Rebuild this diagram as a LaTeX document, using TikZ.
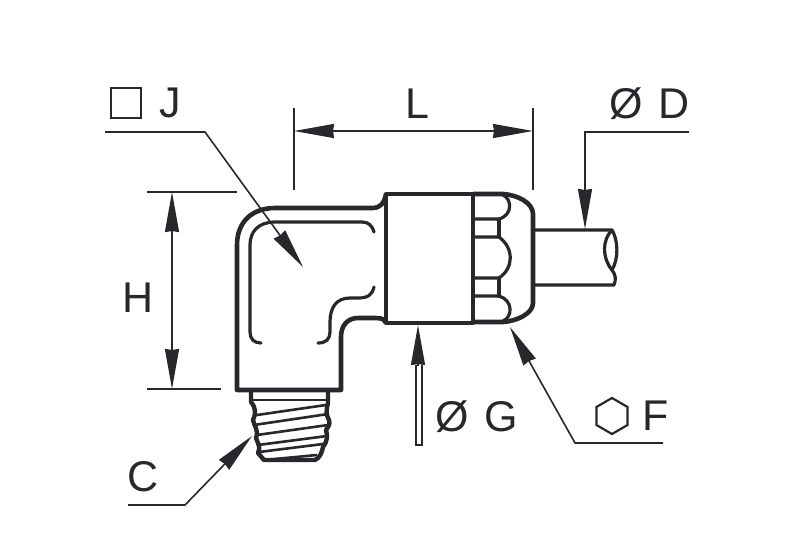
\documentclass[tikz,border=0pt]{standalone}
\usepackage{fontspec}
\setmainfont{Liberation Sans}
\usetikzlibrary{arrows.meta,shapes.geometric}
\definecolor{inkdark}{HTML}{26282C}
\tikzset{
  thick line/.style={draw=inkdark,line width=4.6pt,line join=round},
  mid line/.style={draw=inkdark,line width=3.2pt,line join=round,line cap=round},
  thread line/.style={draw=inkdark,line width=4.4pt,line join=round,line cap=round},
  thin line/.style={draw=inkdark,line width=2.6pt},
  dim line/.style={draw=inkdark,line width=1.6pt,>={Stealth[inset=1pt,length=40pt,width=14pt]}},
  letter/.style={text=inkdark,font=\fontsize{43}{43}\selectfont,inner sep=0pt},
}
\begin{document}
\begin{tikzpicture}[x=1pt,y=-1pt]
\useasboundingbox (0,0) rectangle (787,551);
% body
\draw[thick line] (386,194) .. controls (384,204) and (380,208) .. (372,208) -- (275,208)
  .. controls (252,208) and (237,222) .. (237,245) -- (237,390) -- (341,390) -- (341,337)
  .. controls (341,325) and (348,318) .. (358,318) -- (372,318)
  .. controls (380,318) and (384,318) .. (386,323);
\draw[mid line] (374,232) .. controls (372,225) and (368,222) .. (362,222) -- (275,222)
  .. controls (258,222) and (250,232) .. (250,245) -- (250,332)
  .. controls (250,339) and (254,343) .. (261,343);
\draw[mid line] (374,287) .. controls (372,295) and (368,298) .. (358,298) -- (350,298)
  .. controls (336,298) and (330,308) .. (330,322) -- (330,332)
  .. controls (330,339) and (326,343) .. (318,343);
% nut
\draw[thick line] (386,194) rectangle (473,323);
\draw[thick line] (473,194) -- (503,194) .. controls (518,195) and (533,203) .. (533,214)
  -- (533,303) .. controls (533,313) and (518,321) .. (503,322) -- (473,322);
\draw[mid line] (503,195) .. controls (512,199) and (513,215) .. (499,219) -- (473,219);
\draw[mid line] (473,237) -- (499,237) .. controls (514,248) and (514,268) .. (499,278) -- (473,278);
\draw[mid line] (473,296) -- (499,296) .. controls (513,300) and (513,317) .. (503,321);
\draw[mid line] (499,219) -- (499,237);
\draw[mid line] (499,278) -- (499,296);
% tube
\draw[mid line] (533,230) -- (612,230) .. controls (618,240) and (619,258) .. (612,270)
  .. controls (616,275) and (616,280) .. (614,285) -- (533,285);
\draw[mid line] (612,230) .. controls (602,240) and (602,258) .. (612,270);
% thread
\draw[thread line] (251,390) -- (251,402) .. controls (256,408) and (256,414) .. (253,420)
  .. controls (254,426) and (259,430) .. (256,438) .. controls (258,444) and (261,447) .. (258,453)
  -- (264,460) -- (315,460) .. controls (320,458) and (322,452) .. (323,447)
  .. controls (327,442) and (328,436) .. (326,430) .. controls (329,426) and (330,424) .. (329,420)
  .. controls (326,415) and (326,410) .. (328,403) -- (328,390);
\draw[thin line] (251,400) -- (328,400);
\foreach \ya/\yb/\xa/\xb in {415/405/257/326,425/414/254/328,435/425/257/328,445/436/258/327,452/444/259/323,460/455/264/317}
  \draw[thin line] (\xa,\ya) -- (\xb,\yb);
% labels
\node[letter] (labelL) at (417,104) {L};
\node[letter,anchor=west] (labelD) at (609,104) {Ø\hspace{0.1em} D};
\node[letter] (labelJ) at (170,103) {J};
\node[draw=inkdark,line width=2.2pt,minimum size=30pt,inner sep=0pt] (squareJ) at (126,103) {};
\node[letter] (labelH) at (138,298) {H};
\node[letter] (labelC) at (143,477) {C};
\node[letter,anchor=west] (labelG) at (435,417) {Ø\hspace{0.1em} G};
\node[letter] (labelF) at (656,416) {F};
\node[draw=inkdark,line width=2.2pt,regular polygon,regular polygon sides=6,shape border rotate=30,minimum size=36pt,inner sep=0pt] (hexF) at (612,416) {};
% dimension L
\coordinate (extLa) at (294,108);
\coordinate (extLb) at (294,190);
\coordinate (extLc) at (533,108);
\coordinate (extLd) at (533,190);
\coordinate (arrLa) at (294,131);
\coordinate (arrLb) at (533,131);
\draw[dim line] (extLa) -- (extLb);
\draw[dim line] (extLc) -- (extLd);
\draw[dim line,<->] (arrLa) -- (arrLb);
% dimension H
\coordinate (extHa) at (147,192);
\coordinate (extHb) at (237,192);
\coordinate (extHc) at (147,389);
\coordinate (extHd) at (221,389);
\coordinate (arrHa) at (172,192);
\coordinate (arrHb) at (172,389);
\draw[dim line] (extHa) -- (extHb);
\draw[dim line] (extHc) -- (extHd);
\draw[dim line,<->] (arrHa) -- (arrHb);
% leaders
\coordinate (leadJa) at (105,132);
\coordinate (leadJb) at (205,132);
\coordinate (leadJc) at (303,267);
\draw[dim line,->] (leadJa) -- (leadJb) -- (leadJc);
\coordinate (leadDa) at (689,132);
\coordinate (leadDb) at (585,132);
\coordinate (leadDc) at (585,229);
\draw[dim line,->] (leadDa) -- (leadDb) -- (leadDc);
\coordinate (leadFa) at (663,443);
\coordinate (leadFb) at (575,443);
\coordinate (leadFc) at (510,327);
\draw[dim line,->] (leadFa) -- (leadFb) -- (leadFc);
\coordinate (leadCa) at (128,505);
\coordinate (leadCb) at (185,505);
\coordinate (leadCc) at (252,436);
\draw[dim line,->] (leadCa) -- (leadCb) -- (leadCc);
% hollow arrow of G
\coordinate (arrGa) at (416,365);
\coordinate (arrGb) at (416,445);
\coordinate (arrGc) at (422,445);
\coordinate (arrGd) at (422,365);
\coordinate (arrGe) at (418,366);
\coordinate (arrGf) at (418,325);
\draw[dim line] (arrGa) -- (arrGb) -- (arrGc) -- (arrGd);
\draw[dim line,->] (arrGe) -- (arrGf);
\end{tikzpicture}
\end{document}
